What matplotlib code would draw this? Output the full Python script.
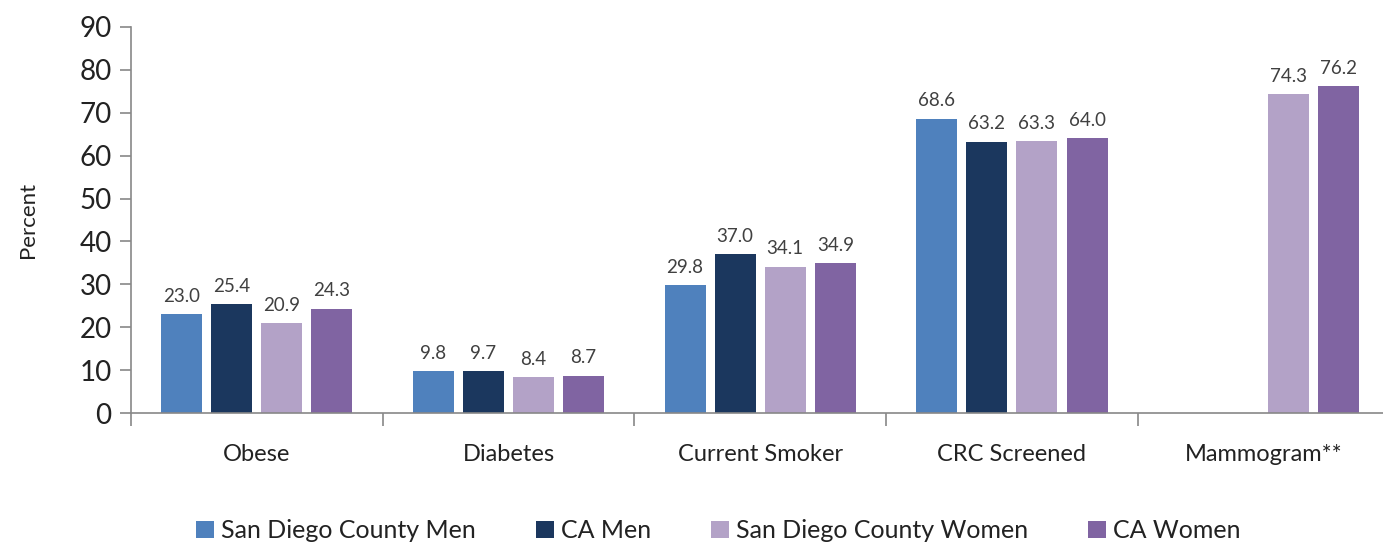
import matplotlib.pyplot as plt
import numpy as np

plt.rcParams['font.family'] = ['Lato', 'DejaVu Sans']

# Data
categories = ['Obese', 'Diabetes', 'Current Smoker', 'CRC Screened', 'Mammogram**']
series_names = ['San Diego County Men', 'CA Men', 'San Diego County Women', 'CA Women']
sd_men = [23.0, 9.8, 29.8, 68.6, None]
ca_men = [25.4, 9.7, 37.0, 63.2, None]
sd_women = [20.9, 8.4, 34.1, 63.3, 74.3]
ca_women = [24.3, 8.7, 34.9, 64.0, 76.2]
colors = ['#4F81BD', '#1B375E', '#B3A2C7', '#8064A2']

fig = plt.figure(figsize=(13.83, 5.45), dpi=100)
ax = fig.add_axes([0.0947, 0.2422, 0.91, 0.7083])

x = np.arange(len(categories))
pitch = 0.199
width = 0.163
for i, (vals, name, c) in enumerate(zip([sd_men, ca_men, sd_women, ca_women], series_names, colors)):
    xs = [xi + (i - 1.5) * pitch for xi, v in zip(x, vals) if v is not None]
    vs = [v for v in vals if v is not None]
    bars = ax.bar(xs, vs, width, color=c, label=name)
    for b, v in zip(bars, vs):
        ax.text(b.get_x() + b.get_width() / 2, v + 2.2, f'{v:.1f}', ha='center', va='bottom',
                fontsize=13.5, color='#404040')

ax.set_xlim(-0.5, 4.5)
ax.set_ylim(0, 90)
ax.set_yticks(range(0, 91, 10))
ax.tick_params(axis='y', labelsize=20, length=8, color='#888888', width=1.2, labelcolor='#222222', pad=6)
ax.set_xticks(x)
ax.set_xticklabels(categories, fontsize=17, color='#222222')
ax.tick_params(axis='x', length=0, pad=22)
ax.set_xticks(np.arange(-0.5, 5, 1), minor=True)
ax.tick_params(axis='x', which='minor', length=9, color='#888888', width=1.2)
for s in ['top', 'right']:
    ax.spines[s].set_visible(False)
for s in ['left', 'bottom']:
    ax.spines[s].set_color('#888888')
    ax.spines[s].set_linewidth(1.2)
ax.set_ylabel('Percent', fontsize=16, color='#222222', labelpad=30)

ax.legend(loc='center', bbox_to_anchor=(0.467, -0.305), ncol=4, frameon=False, fontsize=18,
          handlelength=0.7, handleheight=0.7, handletextpad=0.3, columnspacing=2.4,
          labelcolor='#222222')

fig.savefig('out.png', dpi=100)
